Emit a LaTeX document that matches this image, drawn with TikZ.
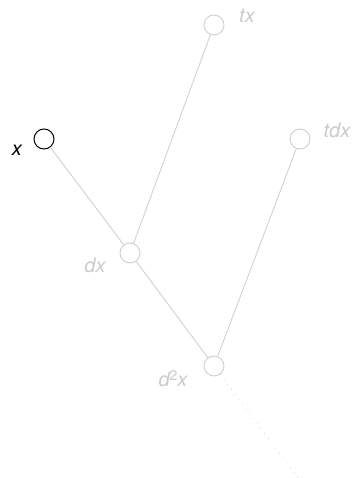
\documentclass[tikz,border=0pt]{standalone}
\usepackage{fontspec}
\setsansfont{TeX Gyre Heros}
\usepackage{xcolor}
\usetikzlibrary{positioning}
\definecolor{faint}{HTML}{D2D2D2}
\definecolor{faintlabel}{HTML}{CBCBCB}

\begin{document}
\begin{tikzpicture}[x=0.75pt, y=-0.75pt, line width=0.75pt]
  % canvas in pixel units, origin top left
  \useasboundingbox (0,0) rectangle (352,478);
  \tikzset{
    dot/.style={circle, draw=faint, fill=white, minimum size=15pt, inner sep=0pt},
    lbl/.style={font=\sffamily\itshape\fontsize{15}{18}\selectfont, text=faintlabel, inner sep=0pt},
    link/.style={draw=faint, line width=0.7pt}
  }
  \node[dot, draw=black] (x) at (44,139) {};
  \node[dot] (tx) at (214,25) {};
  \node[dot] (tdx) at (300,139) {};
  \node[dot] (dx) at (130,253) {};
  \node[dot] (ddx) at (214,366) {};
  \coordinate (tail) at (298,478);
  \path[link] (dx) -- (x);
  \path[link] (dx) -- (tx);
  \path[link] (dx) -- (ddx);
  \path[link] (ddx) -- (tdx);
  \draw[gray!45, line width=0.6pt, dash pattern=on 0.4pt off 4.2pt] (ddx) -- (tail);
  \node[lbl, text=black] (xl) at (17,150) {x};
  \node[lbl] (txl) at (247,16) {tx};
  \node[lbl] (tdxl) at (337,130) {tdx};
  \node[lbl] (dxl) at (95,265) {dx};
  \node[lbl] (ddxl) at (173,379) {d\raisebox{0.55ex}{\upshape\fontsize{10.5}{12}\selectfont 2}x};
\end{tikzpicture}
\end{document}
